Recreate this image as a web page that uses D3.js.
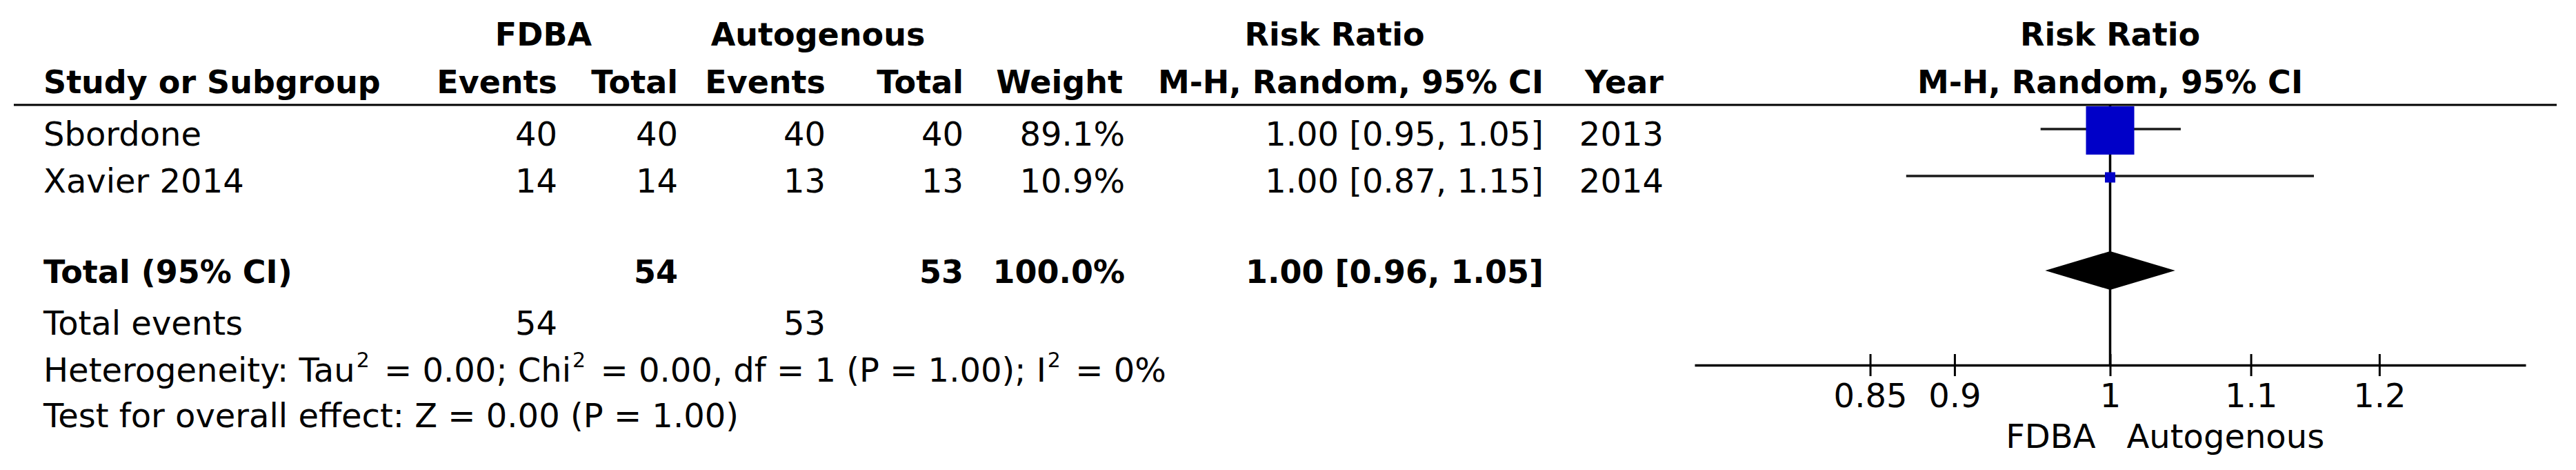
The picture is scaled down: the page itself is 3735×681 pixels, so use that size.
<!DOCTYPE html>
<html>
<head>
<meta charset="utf-8">
<script src="https://cdn.jsdelivr.net/npm/d3@7"></script>
<style>
  html, body { margin: 0; padding: 0; background: #fff; }
  svg { display: block; }
  text { font-family: "DejaVu Sans", Verdana, sans-serif; fill: #000; }
</style>
</head>
<body>
<svg id="chart" width="3735" height="681"></svg>
<script>
// ---------------- data ----------------
const studies      = ["Sbordone", "Xavier 2014"];
const fdbaEvents   = [40, 14];
const fdbaTotals   = [40, 14];
const autoEvents   = [40, 13];
const autoTotals   = [40, 13];
const weights      = [89.1, 10.9];
const weightLabels = ["89.1%", "10.9%"];
const riskRatios   = [1.00, 1.00];
const ciLower      = [0.954, 0.871];
const ciUpper      = [1.049, 1.148];
const ciLabels     = ["1.00 [0.95, 1.05]", "1.00 [0.87, 1.15]"];
const years        = ["2013", "2014"];

const totalLabel        = "Total (95% CI)";
const totalN            = [54, 53];
const totalWeightLabel  = "100.0%";
const pooledRR          = 1.00;
const pooledLower       = 0.957;
const pooledUpper       = 1.045;
const pooledLabel       = "1.00 [0.96, 1.05]";
const totalEvents       = [54, 53];

const axisTicks   = [0.85, 0.9, 1, 1.1, 1.2];
const axisDomain  = [1 / 1.325, 1.325];
const favourLeft  = "FDBA";
const favourRight = "Autogenous";

// ---------------- layout ----------------
const svg = d3.select("#chart");
const REG = 48, BOLD = 46;

const x = d3.scaleLog().domain(axisDomain).range([2457, 3662]);
const row = d3.scaleLinear().domain([0, 1]).range([189, 257]); // row centres
const size = d3.scaleLinear().domain([10.9, 89.1]).range([15, 70]);

const colRight = { ev1: 808, tot1: 983, ev2: 1197, tot2: 1397, weight: 1631, ci: 2238, year: 2412 };
const leftX = 63;
const baseOff = 21;

function txt(xp, yp, s, opts = {}) {
  return svg.append("text")
    .attr("x", xp).attr("y", yp)
    .attr("text-anchor", opts.anchor || "start")
    .style("font-size", (opts.bold ? BOLD : REG) + "px")
    .style("font-weight", opts.bold ? "bold" : "normal")
    .text(s);
}

// header line 1
const h1 = 66, h2 = 135;
txt(788, h1, "FDBA", { bold: true, anchor: "middle" });
txt(1186, h1, "Autogenous", { bold: true, anchor: "middle" });
txt(1935, h1, "Risk Ratio", { bold: true, anchor: "middle" });
txt(x(1), h1, "Risk Ratio", { bold: true, anchor: "middle" });

// header line 2
txt(leftX, h2, "Study or Subgroup", { bold: true });
txt(colRight.ev1, h2, "Events", { bold: true, anchor: "end" });
txt(colRight.tot1, h2, "Total", { bold: true, anchor: "end" });
txt(colRight.ev2, h2, "Events", { bold: true, anchor: "end" });
txt(colRight.tot2, h2, "Total", { bold: true, anchor: "end" });
txt(colRight.weight - 3, h2, "Weight", { bold: true, anchor: "end" });
txt(colRight.ci, h2, "M-H, Random, 95% CI", { bold: true, anchor: "end" });
txt(colRight.year, h2, "Year", { bold: true, anchor: "end" });
txt(x(1), h2, "M-H, Random, 95% CI", { bold: true, anchor: "middle" });

// header rule
svg.append("line").attr("x1", 20).attr("x2", 3707).attr("y1", 152).attr("y2", 152)
  .attr("stroke", "#000").attr("stroke-width", 3);

// study rows
studies.forEach((s, i) => {
  const yb = row(i) + baseOff + 1;
  txt(leftX, yb, s);
  txt(colRight.ev1, yb, fdbaEvents[i], { anchor: "end" });
  txt(colRight.tot1, yb, fdbaTotals[i], { anchor: "end" });
  txt(colRight.ev2, yb, autoEvents[i], { anchor: "end" });
  txt(colRight.tot2, yb, autoTotals[i], { anchor: "end" });
  txt(colRight.weight, yb, weightLabels[i], { anchor: "end" });
  txt(colRight.ci, yb, ciLabels[i], { anchor: "end" });
  txt(colRight.year, yb, years[i], { anchor: "end" });
});

// total row
const yTot = row(3) + baseOff - 4;
txt(leftX, yTot, totalLabel, { bold: true });
txt(colRight.tot1, yTot, totalN[0], { bold: true, anchor: "end" });
txt(colRight.tot2, yTot, totalN[1], { bold: true, anchor: "end" });
txt(colRight.weight, yTot, totalWeightLabel, { bold: true, anchor: "end" });
txt(colRight.ci, yTot, pooledLabel, { bold: true, anchor: "end" });

// total events
const yEv = row(4) + baseOff + 3;
txt(leftX, yEv, "Total events");
txt(colRight.ev1, yEv, totalEvents[0], { anchor: "end" });
txt(colRight.ev2, yEv, totalEvents[1], { anchor: "end" });

// heterogeneity with superscripts
function supLine(yb, parts) {
  const t = svg.append("text").attr("x", leftX).attr("y", yb)
    .style("font-size", REG + "px");
  let shift = 0;
  parts.forEach(p => {
    if (p.sup) {
      t.append("tspan").attr("dx", 2).attr("dy", -21).style("font-size", "30px").text(p.sup);
      shift = 21;
    } else {
      const ts = t.append("tspan").text(p.t);
      if (shift) { ts.attr("dy", shift).attr("dx", 6); shift = 0; }
    }
  });
}
supLine(row(5) + baseOff + 3, [
  { t: "Heterogeneity: Tau" }, { sup: "2" }, { t: " = 0.00; Chi" }, { sup: "2" },
  { t: " = 0.00, df = 1 (P = 1.00); I" }, { sup: "2" }, { t: " = 0%" }
]);
txt(leftX, row(6) + baseOff + 1, "Test for overall effect: Z = 0.00 (P = 1.00)");

// ---------------- forest plot ----------------
const axisY = 529;
const g = svg.append("g");

// line of no effect
g.append("line").attr("x1", x(1)).attr("x2", x(1)).attr("y1", 152).attr("y2", axisY)
  .attr("stroke", "#000").attr("stroke-width", 3.5);

// CIs and squares
studies.forEach((s, i) => {
  const yc = row(i) - 2;
  g.append("line").attr("x1", x(ciLower[i])).attr("x2", x(ciUpper[i]))
    .attr("y1", yc).attr("y2", yc).attr("stroke", "#1a1a1a").attr("stroke-width", 3.5);
  const sz = size(weights[i]);
  g.append("rect").attr("x", x(riskRatios[i]) - sz / 2).attr("y", yc - sz / 2 + 2)
    .attr("width", sz).attr("height", sz).attr("fill", "#0000c8");
});

// diamond
const dy = row(3) - 1, dh = 28;
g.append("path")
  .attr("d", `M${x(pooledLower)},${dy} L${x(pooledRR)},${dy - dh} L${x(pooledUpper)},${dy} L${x(pooledRR)},${dy + dh} Z`)
  .attr("fill", "#000");

// axis
const axis = d3.axisBottom(x).tickValues(axisTicks).tickFormat(d3.format("")).tickSizeOuter(0).tickSizeInner(16);
const ag = svg.append("g").attr("transform", `translate(0,${axisY})`).call(axis);
ag.select(".domain").attr("stroke", "#000").attr("stroke-width", 3.5);
ag.selectAll(".tick line").attr("y1", -16).attr("y2", 16).attr("stroke", "#000").attr("stroke-width", 3);
ag.selectAll(".tick text")
  .attr("y", 61).attr("dy", 0)
  .style("font-size", REG + "px").style("font-family", "'DejaVu Sans', Verdana, sans-serif")
  .attr("fill", "#000");

// favours labels
txt(x(1) - 21, 649, favourLeft, { anchor: "end" });
txt(x(1) + 24, 649, favourRight, { anchor: "start" });
</script>
</body>
</html>
